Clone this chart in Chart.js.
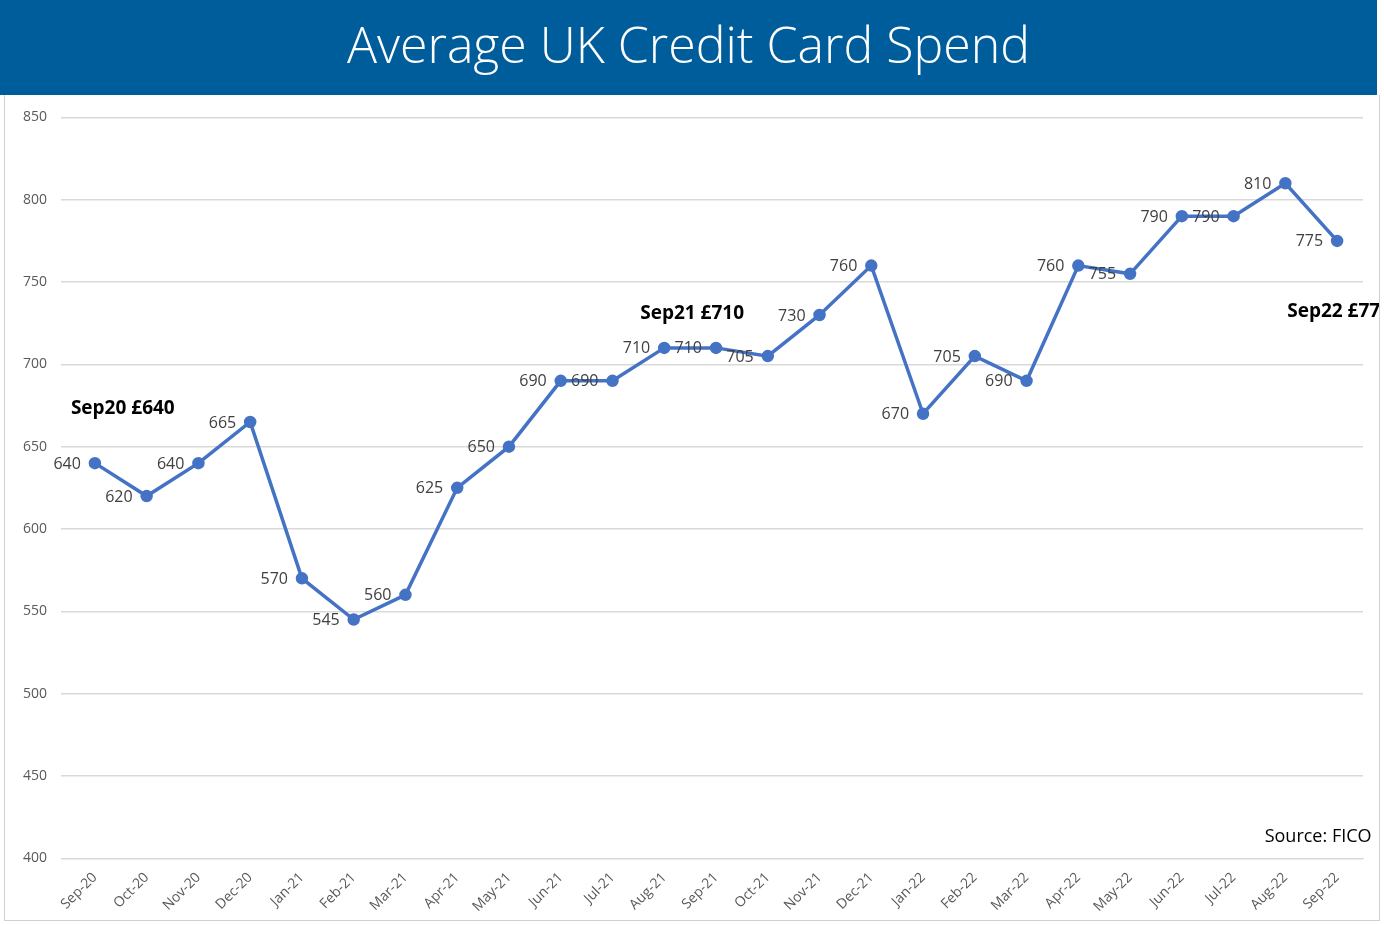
<!DOCTYPE html>
<html>
<head>
<meta charset="utf-8">
<script src="https://cdn.jsdelivr.net/npm/chart.js@4/dist/chart.umd.min.js"></script>
<style>
  body { margin: 0; background: #fff; font-family: "Open Sans", sans-serif; }
  #head { position: absolute; left: 0; top: 0; width: 1377px; height: 95px; background: #005d9c;
          color: #fff; font: 300 50px "Open Sans", sans-serif; text-align: center; line-height: 88px; }
  #box { position: absolute; left: 4px; top: 95px; width: 1374px; height: 825px; border: 1px solid #d0d0d0; border-top: none; }
</style>
</head>
<body>
<div id="head">Average UK Credit Card Spend</div>
<div id="box"><canvas id="c"></canvas></div>
<script>
const months = ['Sep-20','Oct-20','Nov-20','Dec-20','Jan-21','Feb-21','Mar-21','Apr-21','May-21','Jun-21','Jul-21','Aug-21',
  'Sep-21','Oct-21','Nov-21','Dec-21','Jan-22','Feb-22','Mar-22','Apr-22','May-22','Jun-22','Jul-22','Aug-22','Sep-22'];
const spend = [640,620,640,665,570,545,560,625,650,690,690,710,710,705,730,760,670,705,690,760,755,790,790,810,775];
const yTicks = [400,450,500,550,600,650,700,750,800,850];
const notes = [
  { text: 'Sep20 £640', at: 0, value: 673 },
  { text: 'Sep21 £710', at: 11, value: 731 },
  { text: 'Sep22 £775', at: 23.5, value: 732 }
];

// value labels to the left of each point, plus bold notes and source
const labels = {
  id: 'labels',
  afterDatasetsDraw(chart) {
    const ctx = chart.ctx, x = chart.scales.x, y = chart.scales.y;
    ctx.save();
    ctx.font = '16px "Open Sans"';
    ctx.fillStyle = '#404040';
    ctx.textAlign = 'right';
    ctx.textBaseline = 'middle';
    chart.getDatasetMeta(0).data.forEach((p, i) => {
      ctx.fillText(spend[i], p.x - 14, p.y + 1);
    });
    ctx.font = 'bold 19px "Open Sans"';
    ctx.fillStyle = '#000';
    ctx.textAlign = 'left';
    notes.forEach(n => {
      const px = x.getPixelForValue(Math.floor(n.at)) + (n.at % 1) * (x.getPixelForValue(1) - x.getPixelForValue(0));
      ctx.fillText(n.text, px - 24, y.getPixelForValue(n.value));
    });
    ctx.font = '18px "Open Sans"';
    ctx.fillText('Source: FICO', x.getPixelForValue(22.6), y.getPixelForValue(413));
    ctx.restore();
  }
};

new Chart(document.getElementById('c'), {
  type: 'line',
  data: { labels: months, datasets: [{ data: spend, borderColor: '#4472c4', backgroundColor: '#4472c4',
    borderWidth: 3.5, pointRadius: 4.5, tension: 0 }] },
  options: {
    responsive: true, maintainAspectRatio: false, animation: false,
    layout: { padding: { top: 16, right: 16, left: 4, bottom: 2 } },
    plugins: { legend: { display: false }, tooltip: { enabled: false } },
    scales: {
      x: { offset: true, grid: { display: false }, border: { color: '#d9d9d9' },
           ticks: { color: '#595959', font: { size: 14, family: 'Open Sans' }, maxRotation: 45, minRotation: 45, autoSkip: false } },
      y: { min: 400, max: 850, afterBuildTicks: s => { s.ticks = yTicks.map(v => ({ value: v })); },
           grid: { color: '#d9d9d9', lineWidth: 1.5 }, border: { display: false },
           ticks: { color: '#595959', font: { size: 14, family: 'Open Sans' }, padding: 14 } }
    }
  },
  plugins: [labels]
});
</script>
</body>
</html>
